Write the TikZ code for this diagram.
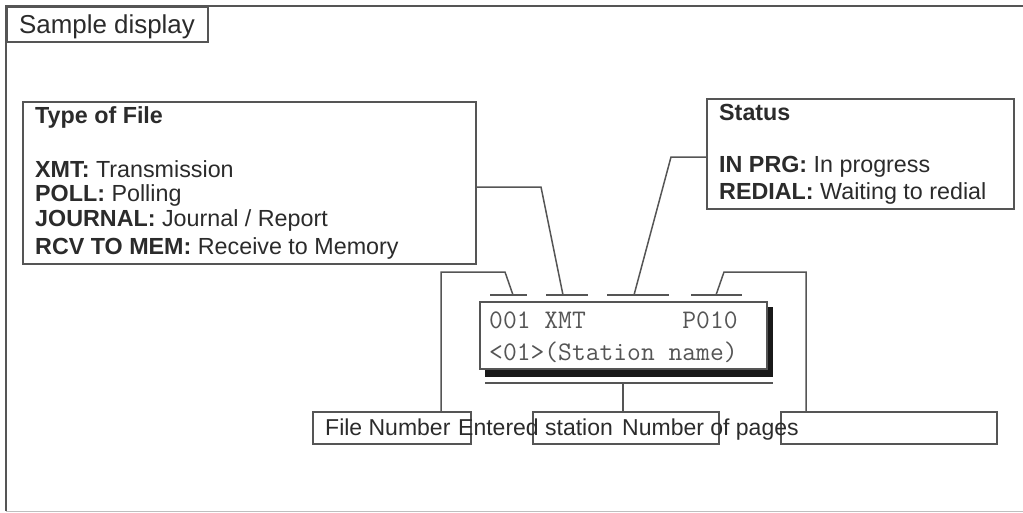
\documentclass[tikz,border=0pt]{standalone}
\usepackage{fontspec}
\setmainfont{Liberation Sans}
\usetikzlibrary{positioning}
\definecolor{linegray}{HTML}{555555}
\definecolor{inkgray}{HTML}{2B2B2B}
\begin{document}
\begin{tikzpicture}[x=1pt, y=-1pt,
                    every node/.append style={text=inkgray},
                    int/.style={draw=linegray, line width=1.5pt, inner sep=0pt, anchor=north west},
                    txt/.style={inner sep=0pt, anchor=north west, align=left, font=\fontsize{23.3}{25}\selectfont},
                    lbl/.style={inner sep=0pt, anchor=base west, font=\fontsize{23}{26}\selectfont},
                    lcd/.style={inner sep=0pt, anchor=base west, text=linegray, font=\ttfamily\fontsize{26.8}{28}\selectfont},
                    wire/.style={draw=linegray, line width=1.5pt}]
   \useasboundingbox (0,0) rectangle (1023,512);

   \coordinate (topleft) at (6,6);
   \coordinate (topright) at (1023,6);
   \coordinate (botleft) at (6,511);
   \coordinate (botright) at (1023,511);
   \draw [wire] (topright) -- (topleft) -- (botleft);
   \draw [wire, draw=black!25, line width=0.8pt] (botleft) -- (botright);
   \node [int, minimum width=201pt, minimum height=35pt] (sample) at (6,6) {};
   \node [lbl, font=\fontsize{25.9}{30}\selectfont] (sampletxt) at (19,33) {Sample display};

   \node [int, minimum width=453pt, minimum height=162pt] (type) at (22,101) {};
   \node [txt] (typetxt) at (35,106) {\textbf{Type of File}\\[29pt]
      \textbf{XMT:} Transmission\\[-1pt]
      \textbf{POLL:} Polling\\[0pt]
      \textbf{JOURNAL:} Journal / Report\\[3pt]
      \textbf{RCV TO MEM:} Receive to Memory};

   \node [int, minimum width=307pt, minimum height=110pt] (status) at (706,98) {};
   \node [txt] (statustxt) at (719,104) {\textbf{Status}\\[27pt]
      \textbf{IN PRG:} In progress\\[2pt]
      \textbf{REDIAL:} Waiting to redial};

   % display with its shadow
   \fill [black!90] (485,307) rectangle (773,377);
   \node [int, fill=white, minimum width=287pt, minimum height=67pt] (lcd) at (479,301) {};
   \node [lcd] (line1) at (489,328) {001 XMT~~~~~~~P010};
   \node [lcd] (line2) at (489,360) {<01>(Station name)};

   % marks over the fields
   \coordinate (mfile) at (513,295);
   \coordinate (mtype) at (563,295);
   \coordinate (mstat) at (634,295);
   \coordinate (mpage) at (716,295);
   \draw [wire] (490,295) -- (527,295);
   \draw [wire] (546,295) -- (588,295);
   \draw [wire] (607,295) -- (669,295);
   \draw [wire] (691,295) -- (742,295);
   \coordinate (mname) at (623,383);
   \draw [wire] (485,383) -- (773,383);

   \node [int, minimum width=158pt, minimum height=32pt] (filebox) at (312,411) {};
   \node [int, minimum width=186pt, minimum height=32pt] (namebox) at (532,411) {};
   \node [int, minimum width=216pt, minimum height=32pt] (pagebox) at (780,411) {};
   \node [lbl] (filetxt) at (325,435) {File Number};
   \node [lbl] (nametxt) at (458,435) {Entered station};
   \node [lbl] (pagetxt) at (622,435) {Number of pages};

   \draw [wire] (filebox.north -| 441,0) -- (441,272) -- (505,272) -- (mfile);
   \draw [wire] (type.east |- 0,187) -- (541,187) -- (mtype);
   \draw [wire] (status.west |- 0,157) -- (671,157) -- (mstat);
   \draw [wire] (pagebox.north -| 806,0) -- (806,272) -- (724,272) -- (mpage);
   \draw [wire] (mname) -- (mname |- namebox.north);
\end{tikzpicture}
\end{document}
